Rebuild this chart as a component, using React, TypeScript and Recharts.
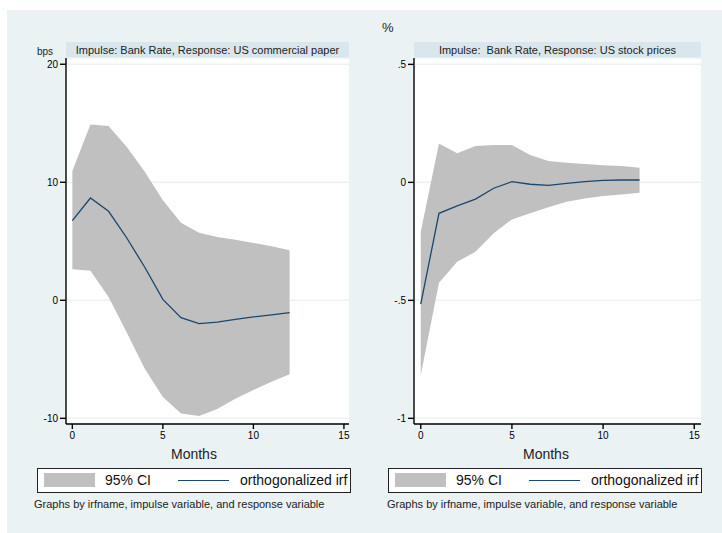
import { Area, CartesianGrid, ComposedChart, Line, XAxis, YAxis } from "recharts"

const months = [0, 1, 2, 3, 4, 5, 6, 7, 8, 9, 10, 11, 12]

// Impulse: Bank Rate, Response: US commercial paper (bps)
const cpIrf = [6.75, 8.67, 7.54, 5.3, 2.8, 0.08, -1.47, -1.98, -1.84, -1.61, -1.41, -1.24, -1.04]
const cpLower = [2.63, 2.51, 0.28, -2.7, -5.8, -8.2, -9.6, -9.8, -9.2, -8.35, -7.6, -6.9, -6.27]
const cpUpper = [10.96, 14.9, 14.77, 13.0, 10.9, 8.47, 6.58, 5.73, 5.37, 5.14, 4.86, 4.57, 4.24]

// Impulse: Bank Rate, Response: US stock prices (%)
const spIrf = [-0.516, -0.131, -0.1, -0.071, -0.025, 0.003, -0.008, -0.013, -0.004, 0.003, 0.008, 0.01, 0.01]
const spLower = [-0.816, -0.425, -0.336, -0.294, -0.216, -0.157, -0.131, -0.106, -0.082, -0.068, -0.058, -0.051, -0.044]
const spUpper = [-0.209, 0.165, 0.123, 0.154, 0.158, 0.158, 0.116, 0.09, 0.083, 0.078, 0.073, 0.069, 0.062]

const xTicks = [0, 5, 10, 15]
const cpTicks = [-10, 0, 10, 20]
const spTicks = [-1, -0.5, 0, 0.5]

const FONT = "'Liberation Sans', Arial, sans-serif"
const BG = "#eaf2f3"
const BAND = "#d9e6eb"
const CI = "#c0c0c0"
const NAVY = "#1a476f"

const fmtCp = (v: number) => String(v)
const fmtSp = (v: number) => String(v).replace("0.", ".")

type PanelProps = {
  left: number
  width: number
  title: string
  irf: number[]
  lower: number[]
  upper: number[]
  yDomain: [number, number]
  xDomain: [number, number]
  yTicks: number[]
  fmt: (v: number) => string
}

function Panel({ left, width, title, irf, lower, upper, yDomain, xDomain, yTicks, fmt }: PanelProps) {
  const data = months.map((m, i) => ({ m, irf: irf[i], ci: [lower[i], upper[i]] }))
  const plotLeft = left + 50
  const plotRight = left + width - 1
  return (
    <>
      <div
        style={{
          position: "absolute",
          left: plotLeft,
          top: 42,
          width: plotRight - plotLeft,
          height: 16,
          background: BAND,
          fontSize: 11,
          lineHeight: "16px",
          textAlign: "center",
          color: "#222",
          whiteSpace: "pre",
        }}
      >
        {title}
      </div>
      <div style={{ position: "absolute", left, top: 50 }}>
        <ComposedChart width={width} height={414} data={data} margin={{ top: 8, right: 1, bottom: 0, left: 10 }}>
          <CartesianGrid vertical={false} stroke={BG} fill="#ffffff" strokeWidth={1.5} />
          <XAxis
            dataKey="m"
            type="number"
            domain={xDomain}
            ticks={xTicks}
            allowDataOverflow
            height={40}
            tickSize={5}
            tickMargin={3}
            stroke="#000"
            strokeWidth={1.4}
            tick={{ fontSize: 10, fill: "#000", fontFamily: FONT }}
          />
          <YAxis
            type="number"
            domain={yDomain}
            ticks={yTicks}
            allowDataOverflow
            width={40}
            tickSize={6}
            tickMargin={2}
            stroke="#000"
            strokeWidth={1.4}
            tickFormatter={fmt}
            tick={{ fontSize: 10, fill: "#000", fontFamily: FONT }}
          />
          <Area dataKey="ci" stroke="none" fill={CI} fillOpacity={1} isAnimationActive={false} />
          <Line dataKey="irf" stroke={NAVY} strokeWidth={1.3} dot={false} isAnimationActive={false} />
        </ComposedChart>
      </div>
    </>
  )
}

function LegendBox({ left, width }: { left: number; width: number }) {
  return (
    <div
      style={{
        position: "absolute",
        left,
        top: 468,
        width,
        height: 25,
        boxSizing: "border-box",
        border: "1px solid #222",
        background: "#fff",
        overflow: "hidden",
        fontSize: 14,
        color: "#111",
      }}
    >
      <div style={{ position: "absolute", left: 6, top: 4, width: 51, height: 14, background: CI }} />
      <div style={{ position: "absolute", left: 67, top: 3, lineHeight: "17px", whiteSpace: "nowrap" }}>95% CI</div>
      <div style={{ position: "absolute", left: 140, top: 11, width: 51, height: 1.3, background: NAVY }} />
      <div style={{ position: "absolute", left: 202, top: 3, lineHeight: "17px", whiteSpace: "nowrap" }}>
        orthogonalized irf
      </div>
    </div>
  )
}

export default function App() {
  return (
    <div
      style={{
        position: "absolute",
        left: 0,
        top: 0,
        width: 722,
        height: 533,
        background: "#fff",
        fontFamily: FONT,
        overflow: "hidden",
      }}
    >
      <div style={{ position: "absolute", left: 7, top: 10, width: 715, height: 523, background: BG }} />
      <div style={{ position: "absolute", left: 37, top: 46, fontSize: 10, color: "#222" }}>bps</div>
      <div style={{ position: "absolute", left: 382, top: 20, fontSize: 13, color: "#222" }}>%</div>

      <Panel
        left={16}
        width={334}
        title="Impulse: Bank Rate, Response: US commercial paper"
        irf={cpIrf}
        lower={cpLower}
        upper={cpUpper}
        yDomain={[-10.48, 20.53]}
        xDomain={[-0.35, 15.28]}
        yTicks={cpTicks}
        fmt={fmtCp}
      />
      <Panel
        left={364}
        width={338}
        title="Impulse:  Bank Rate, Response: US stock prices"
        irf={spIrf}
        lower={spLower}
        upper={spUpper}
        yDomain={[-1.024, 0.527]}
        xDomain={[-0.37, 15.37]}
        yTicks={spTicks}
        fmt={fmtSp}
      />

      <div style={{ position: "absolute", left: 171, top: 446, fontSize: 14, color: "#222" }}>Months</div>
      <div style={{ position: "absolute", left: 523, top: 446, fontSize: 14, color: "#222" }}>Months</div>

      <LegendBox left={37} width={314} />
      <LegendBox left={388} width={314} />

      <div style={{ position: "absolute", left: 34, top: 498, fontSize: 11, color: "#222", whiteSpace: "nowrap" }}>
        Graphs by irfname, impulse variable, and response variable
      </div>
      <div style={{ position: "absolute", left: 387, top: 498, fontSize: 11, color: "#222", whiteSpace: "nowrap" }}>
        Graphs by irfname, impulse variable, and response variable
      </div>
    </div>
  )
}
